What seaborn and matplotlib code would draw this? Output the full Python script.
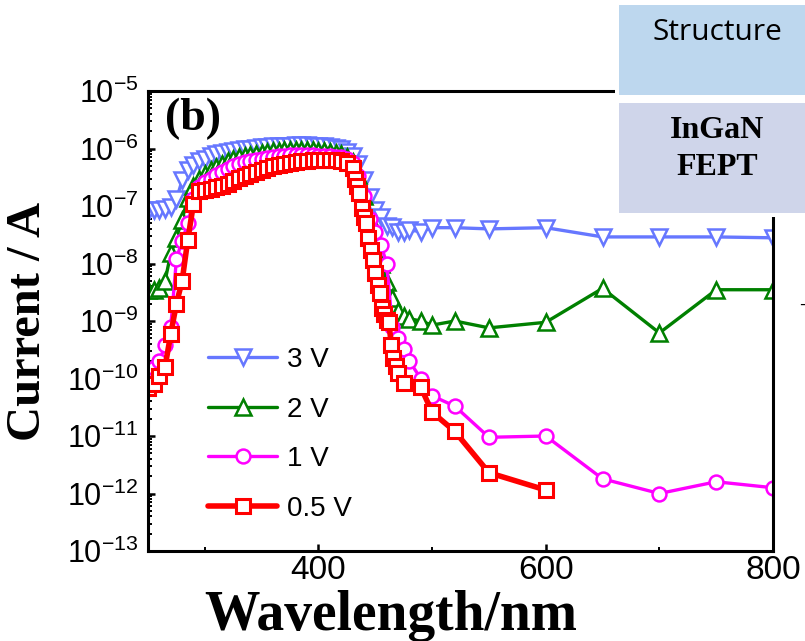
import numpy as np
import pandas as pd
import matplotlib
matplotlib.use("Agg")
import matplotlib.pyplot as plt
import matplotlib.ticker as ticker
from matplotlib.patches import Rectangle
import seaborn as sns

# ---- data (wavelength in nm, current in A) ----
wl_3v = [250, 255, 260, 265, 270, 275, 280, 285, 290, 295, 300, 305, 310, 315, 320,
         325, 330, 335, 340, 345, 350, 355, 360, 365, 370, 375, 380, 385, 390, 395,
         400, 405, 410, 415, 420, 425, 430, 435, 440, 445, 450, 455, 460, 465, 470,
         475, 480, 490, 500, 520, 550, 600, 650, 700, 750, 800]
i_3v = [8.0e-8, 8.5e-8, 8.5e-8, 9.0e-8, 9.5e-8, 1.3e-7, 2.8e-7, 4.3e-7, 5.2e-7, 6.0e-7,
        6.7e-7, 7.3e-7, 7.9e-7, 8.4e-7, 8.8e-7, 9.2e-7, 9.6e-7, 9.9e-7, 1.0e-6, 1.02e-6,
        1.05e-6, 1.07e-6, 1.09e-6, 1.1e-6, 1.11e-6, 1.12e-6, 1.13e-6, 1.13e-6, 1.13e-6, 1.12e-6,
        1.11e-6, 1.1e-6, 1.08e-6, 1.04e-6, 9.8e-7, 8.7e-7, 7.3e-7, 5.3e-7, 2.8e-7, 1.45e-7,
        8.5e-8, 6.5e-8, 4.5e-8, 4.3e-8, 3.6e-8, 3.5e-8, 3.8e-8, 3.6e-8, 4.2e-8, 4.2e-8,
        4.0e-8, 4.2e-8, 2.9e-8, 2.9e-8, 2.9e-8, 2.8e-8]

wl_2v = [250, 255, 260, 265, 270, 275, 280, 285, 290, 295, 300, 305, 310, 315, 320,
         325, 330, 335, 340, 345, 350, 355, 360, 365, 370, 375, 380, 385, 390, 395,
         400, 405, 410, 415, 420, 425, 430, 435, 440, 445, 450, 455, 460, 465, 470,
         475, 480, 490, 500, 520, 550, 600, 650, 700, 750, 800]
i_2v = [3.5e-9, 3.5e-9, 3.8e-9, 5.0e-9, 1.5e-8, 2.8e-8, 5.8e-8, 1.4e-7, 2.2e-7, 2.9e-7,
        3.6e-7, 4.2e-7, 4.8e-7, 5.4e-7, 6.0e-7, 6.5e-7, 7.0e-7, 7.4e-7, 7.8e-7, 8.1e-7,
        8.4e-7, 8.7e-7, 8.9e-7, 9.1e-7, 9.3e-7, 9.4e-7, 9.5e-7, 9.5e-7, 9.4e-7, 9.3e-7,
        9.1e-7, 8.9e-7, 8.7e-7, 8.4e-7, 7.9e-7, 7.2e-7, 5.8e-7, 3.5e-7, 1.5e-7, 6.0e-8,
        2.5e-8, 1.0e-8, 4.8e-9, 2.5e-9, 1.5e-9, 1.2e-9, 1.1e-9, 1.0e-9, 8.5e-10, 1.0e-9,
        7.6e-10, 9.5e-10, 3.7e-9, 6.2e-10, 3.5e-9, 3.5e-9]

wl_1v = [250, 255, 260, 265, 270, 275, 280, 285, 290, 295, 300, 305, 310, 315, 320,
         325, 330, 335, 340, 345, 350, 355, 360, 365, 370, 375, 380, 385, 390, 395,
         400, 405, 410, 415, 420, 425, 430, 435, 440, 445, 450, 455, 460, 465, 470,
         475, 480, 490, 500, 520, 550, 600, 650, 700, 750, 800]
i_1v = [1.3e-10, 1.5e-10, 2.0e-10, 3.8e-10, 8.0e-10, 1.2e-8, 2.5e-8, 5.0e-8, 1.3e-7, 2.1e-7,
        2.6e-7, 3.0e-7, 3.4e-7, 3.9e-7, 4.4e-7, 4.9e-7, 5.4e-7, 5.8e-7, 6.1e-7, 6.4e-7,
        6.7e-7, 6.9e-7, 7.1e-7, 7.3e-7, 7.5e-7, 7.6e-7, 7.7e-7, 7.7e-7, 7.7e-7, 7.6e-7,
        7.5e-7, 7.4e-7, 7.3e-7, 7.2e-7, 7.0e-7, 6.5e-7, 5.6e-7, 3.3e-7, 1.5e-7, 6.0e-8,
        3.5e-8, 2.1e-8, 1.0e-8, 8.0e-10, 5.0e-10, 3.2e-10, 2.0e-10, 1.0e-10, 5.0e-11, 3.3e-11,
        9.5e-12, 1.0e-11, 1.8e-12, 1.0e-12, 1.6e-12, 1.26e-12]

wl_05v = [250, 255, 260, 265, 270, 275, 280, 285, 290, 295, 300, 305, 310, 315, 320,
          325, 330, 335, 340, 345, 350, 355, 360, 365, 370, 375, 380, 385, 390, 395,
          400, 405, 410, 415, 420, 425, 430, 432, 434, 436, 438, 440, 442, 444, 446,
          448, 450, 452, 454, 456, 458, 460, 462, 464, 466, 468, 470, 475, 490, 500,
          520, 550, 600]
i_05v = [6.8e-11, 8.0e-11, 1.1e-10, 1.6e-10, 6.0e-10, 2.0e-9, 5.0e-9, 2.6e-8, 1.1e-7, 1.8e-7,
         1.9e-7, 2.0e-7, 2.1e-7, 2.2e-7, 2.4e-7, 2.7e-7, 3.1e-7, 3.3e-7, 3.6e-7, 3.9e-7,
         4.3e-7, 4.6e-7, 5.0e-7, 5.2e-7, 5.4e-7, 5.6e-7, 5.9e-7, 6.0e-7, 6.0e-7, 6.3e-7,
         6.3e-7, 6.3e-7, 6.3e-7, 6.3e-7, 6.0e-7, 5.6e-7, 4.6e-7, 3.0e-7, 2.2e-7, 1.7e-7,
         9.3e-8, 6.5e-8, 5.0e-8, 2.8e-8, 1.7e-8, 1.15e-8, 6.8e-9, 4.3e-9, 3.1e-9, 1.7e-9,
         1.3e-9, 1.04e-9, 9.6e-10, 3.8e-10, 2.3e-10, 1.65e-10, 1.25e-10, 8.3e-11, 7.1e-11, 2.6e-11,
         1.2e-11, 2.3e-12, 1.15e-12]

x_ticks = [400, 600, 800]
x_minor = [300, 500, 700]

sns.set_style("ticks")
plt.rcParams["font.family"] = ["Liberation Sans", "DejaVu Sans"]
plt.rcParams["mathtext.fontset"] = "custom"
plt.rcParams["mathtext.rm"] = "Liberation Sans"
plt.rcParams["mathtext.it"] = "Liberation Sans"
plt.rcParams["mathtext.bf"] = "Liberation Sans"
for key in ["text.color", "axes.labelcolor", "xtick.color", "ytick.color", "axes.edgecolor"]:
    plt.rcParams[key] = "black"

fig = plt.figure(figsize=(8.05, 6.41), dpi=100)
ax = fig.add_axes([0.1839, 0.1404, 0.7764, 0.7176])

series = [
    ("3 V", wl_3v, i_3v, "#6677ff", "v", 11, 1.8, 2.4),
    ("2 V", wl_2v, i_2v, "#008000", "^", 11, 1.8, 2.4),
    ("1 V", wl_1v, i_1v, "#ff00ff", "o", 10, 1.8, 2.4),
    ("0.5 V", wl_05v, i_05v, "#ff0000", "s", 9.5, 2.2, 4.0),
]
for lab, xs, ys, col, mk, ms, mew, lw in series:
    df = pd.DataFrame({"wl": xs, "cur": ys})
    sns.lineplot(data=df, x="wl", y="cur", ax=ax, color=col, marker=mk,
                 markersize=ms, markerfacecolor="white", markeredgecolor=col,
                 markeredgewidth=mew, linewidth=lw, label=lab,
                 estimator=None, sort=False)

ax.set_yscale("log")
ax.set_ylim(1e-13, 1e-5)
ax.set_xlim(250, 800)
ax.set_xticks(x_ticks)
ax.set_xticks(x_minor, minor=True)
ax.yaxis.set_major_locator(ticker.LogLocator(base=10, numticks=20))
ax.yaxis.set_minor_locator(ticker.LogLocator(base=10, subs=np.arange(2, 10), numticks=20))
ax.yaxis.set_minor_formatter(ticker.NullFormatter())
ax.yaxis.set_major_formatter(ticker.FuncFormatter(
    lambda v, p: r"$\mathregular{10^{%d}}$" % int(round(np.log10(v)))))
ax.set_xlabel("")
ax.set_ylabel("")

for s in ax.spines.values():
    s.set_linewidth(2.2)
    s.set_color("black")
ax.tick_params(axis="both", which="major", direction="in", length=5, width=1.8,
               top=False, right=False, colors="black")
ax.tick_params(axis="both", which="minor", direction="in", length=3, width=1.4,
               top=False, right=False)
ax.tick_params(axis="x", labelsize=24, pad=3)
ax.tick_params(axis="y", labelsize=22, pad=7)

handles, labels = ax.get_legend_handles_labels()
ax.legend(handles, labels, loc="upper left", bbox_to_anchor=(0.056, 0.498),
          frameon=False, handlelength=2.5, handletextpad=0.35,
          labelspacing=0.85, borderpad=0.4,
          prop={"family": ["Liberation Sans", "DejaVu Sans"], "size": 20})

ax.text(0.027, 0.985, "(b)", transform=ax.transAxes, ha="left", va="top",
        fontsize=33, fontweight="bold", family="Liberation Serif")

fig.text(28 / 805, 0.4992, "Current / A", rotation=90, ha="center", va="center",
         fontsize=35, fontweight="bold", family="Liberation Serif")
fig.text(391 / 805, 11 / 641, "Wavelength/nm", ha="center", va="baseline",
         fontsize=40, fontweight="bold", family="Liberation Serif")

# structure boxes at the top right
W, H = 805.0, 641.0
fig.add_artist(Rectangle((615 / W, 1 - 217 / H), 190 / W, 216 / H, transform=fig.transFigure,
                         facecolor="white", edgecolor="none", zorder=5))
fig.add_artist(Rectangle((619 / W, 1 - 95 / H), 186 / W, 90 / H, transform=fig.transFigure,
                         facecolor="#bdd7ee", edgecolor="none", zorder=6))
fig.add_artist(Rectangle((619 / W, 1 - 213 / H), 186 / W, 110 / H, transform=fig.transFigure,
                         facecolor="#cfd5ea", edgecolor="none", zorder=6))
fig.text(717 / W, 1 - 33 / H, "Structure", ha="center", va="center", fontsize=21.5,
         family=["Open Sans", "DejaVu Sans"], zorder=7)
fig.text(717 / W, 1 - 149 / H, "InGaN\nFEPT", ha="center", va="center", fontsize=23,
         fontweight="bold", family="Liberation Serif", linespacing=1.35, zorder=7)
fig.text(802 / W, 1 - 305 / H, "-", ha="center", va="center", fontsize=14, zorder=7)

fig.savefig("out.png", dpi=100)
